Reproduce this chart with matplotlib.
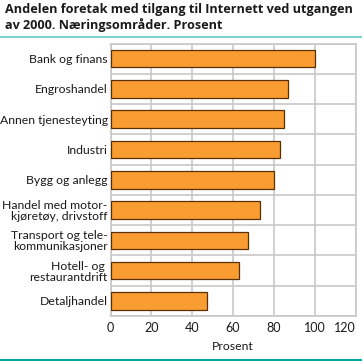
import matplotlib
matplotlib.use("Agg")
import matplotlib.pyplot as plt
import numpy as np

plt.rcParams['font.family'] = ['Open Sans', 'DejaVu Sans']

# næringsområder, fra topp til bunn
categories = [
    "Bank og finans",
    "Engroshandel",
    "Annen tjenesteyting",
    "Industri",
    "Bygg og anlegg",
    "Handel med motor-\nkjøretøy, drivstoff",
    "Transport og tele-\nkommunikasjoner",
    "Hotell- og \nrestaurantdrift",
    "Detaljhandel",
]
values = [100, 87, 85, 83, 80, 73, 67.5, 63, 47.5]
xticks = [0, 20, 40, 60, 80, 100, 120]

W, H = 362, 361
fig = plt.figure(figsize=(W / 100, H / 100), dpi=100)
ax = fig.add_axes([110.5 / W, 1 - 316 / H, 245 / W, 272.5 / H])

y = np.arange(len(categories))
ax.barh(y, values, height=0.58, color="#f99d33", edgecolor="#5a3000", linewidth=0.9, zorder=3)

ax.set_xlim(0, 120)
ax.set_ylim(len(categories) - 0.5, -0.5)
ax.set_xticks(xticks)
ax.set_yticks(y)
ax.set_yticklabels(categories, fontsize=8.8, color="#1a1a1a", linespacing=1.0, family="Lato")
ax.set_yticks(np.arange(len(categories) + 1) - 0.5, minor=True)
ax.tick_params(axis="x", length=0, pad=4, colors="#1a1a1a")
ax.tick_params(axis="y", which="both", length=0, pad=2)
for lab in ax.get_xticklabels():
    lab.set_family("Lato")
    lab.set_fontsize(9)
ax.get_xticklabels()[-1].set_horizontalalignment("right")

grid = "#c8c8c8"
ax.grid(axis="x", color=grid, linewidth=1.2, zorder=0)
ax.grid(axis="y", which="minor", color=grid, linewidth=1.2, zorder=0)
for s in ax.spines.values():
    s.set_color(grid)
    s.set_linewidth(1.2)

ax.set_xlabel("Prosent", fontsize=8.8, labelpad=5, color="#1a1a1a", family="Lato")

fig.text(5 / W, 1 - 3 / H, "Andelen foretak med tilgang til Internett ved utgangen\nav 2000. Næringsområder. Prosent",
         fontsize=9.1, fontweight="bold", va="top", ha="left", linespacing=1.15, color="#1a1a1a")

fig.add_artist(plt.Line2D([0, 1], [1 - 36.5 / H] * 2, color="#7fcfca", linewidth=1.5))
fig.add_artist(plt.Line2D([0, 1], [1 - 359.5 / H] * 2, color="#00a99d", linewidth=1.5))

fig.savefig("out.png", dpi=100)
